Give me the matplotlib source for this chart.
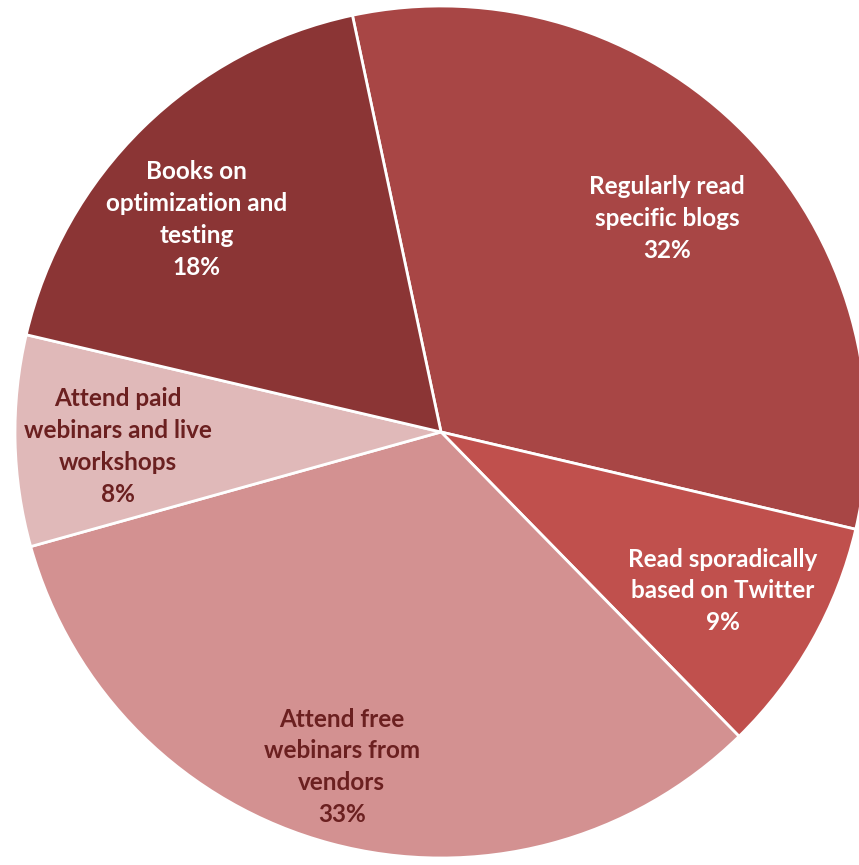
import numpy as np
import matplotlib
matplotlib.use("Agg")
import matplotlib.pyplot as plt

# slice data, clockwise from the top-left boundary
labels = ["Regularly read\nspecific blogs",
          "Read sporadically\nbased on Twitter",
          "Attend free\nwebinars from\nvendors",
          "Attend paid\nwebinars and live\nworkshops",
          "Books on\noptimization and\ntesting"]
shares = [32, 9, 33, 8, 18]

colors = ["#A84645", "#C0504D", "#D39191", "#E0B9B9", "#8B3535"]
text_colors = ["white", "white", "#6B2020", "#6B2020", "white"]
label_r = [0.73, 0.76, 0.82, 0.76, 0.76]
label_turn = [-1, 0, -1.5, 1.4, 4.6]  # degrees, nudges label off the mid-angle

W, H = 859, 865
fig = plt.figure(figsize=(W / 100, H / 100), dpi=100)
ax = fig.add_axes([0, 0, 1, 1])

cx, cy, R = 441, 432, 426  # pixel centre and radius
wedges, _ = ax.pie(shares, startangle=102, counterclock=False, radius=1,
                   colors=colors,
                   wedgeprops=dict(edgecolor="white", linewidth=2))

for w, lab, pct, tc, r, t in zip(wedges, labels, shares, text_colors,
                                 label_r, label_turn):
    ang = np.deg2rad((w.theta1 + w.theta2) / 2 + t)
    ax.text(r * np.cos(ang), r * np.sin(ang), f"{lab}\n{pct}%",
            ha="center", va="center", color=tc, fontsize=17.5,
            fontweight="bold", family="Lato", linespacing=1.47)

ax.set_xlim(-cx / R, (W - cx) / R)
ax.set_ylim(-(H - cy) / R, cy / R)
ax.set_aspect("auto")
ax.axis("off")

fig.savefig("out.png", dpi=100, facecolor="white")
